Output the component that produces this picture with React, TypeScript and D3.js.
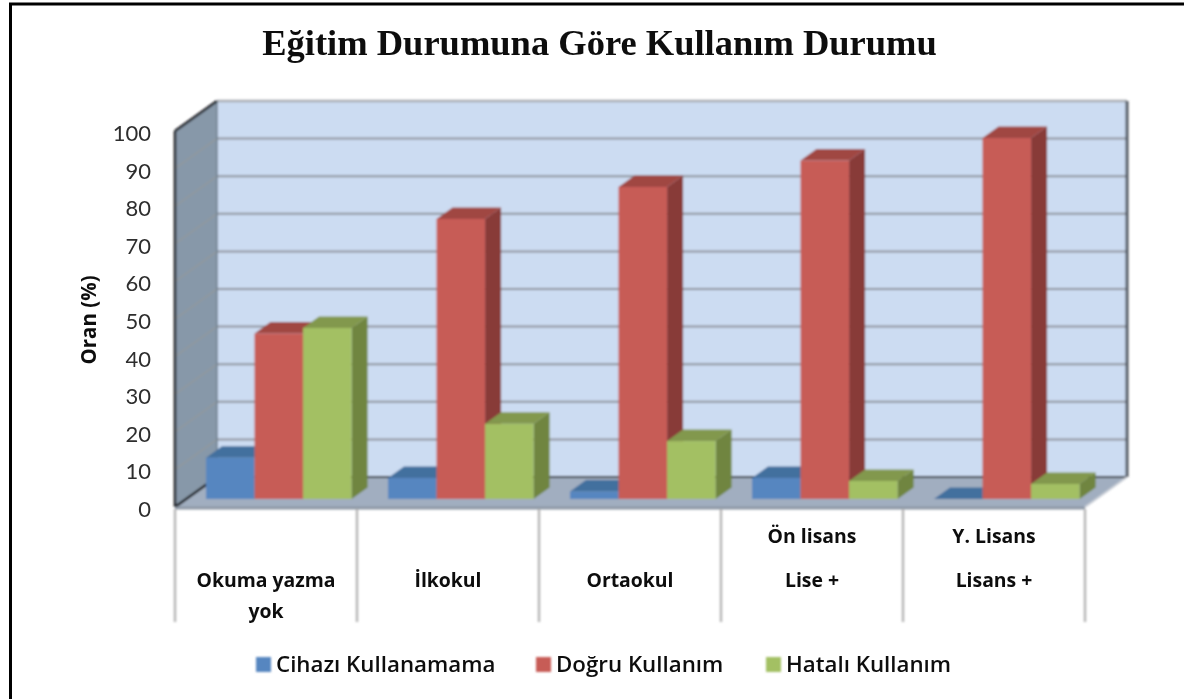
import {useEffect, useRef} from "react";
import * as d3 from "d3";

const categories = ["Okuma yazma yok", "İlkokul", "Ortaokul", "Ön lisans Lise +", "Y. Lisans Lisans +"];
const categoryLines = [["", "Okuma yazma", "yok"], ["", "İlkokul", ""], ["", "Ortaokul", ""], ["Ön lisans", "Lise +", ""], ["Y. Lisans", "Lisans +", ""]];
const seriesNames = ["Cihazı Kullanamama", "Doğru Kullanım", "Hatalı Kullanım"];
const cihaziKullanamama = [11, 5.6, 2, 5.6, 0];
const dogruKullanim = [44, 74.5, 83, 90, 96];
const hataliKullanim = [45.5, 20, 15.4, 4.8, 4];
const seriesValues = [cihaziKullanamama, dogruKullanim, hataliKullanim];
const yTicks = [0, 10, 20, 30, 40, 50, 60, 70, 80, 90, 100];

const frontColors = ["#5686c0", "#c75b57", "#a3c063"];
const topColors = ["#436f9e", "#a04643", "#82984d"];
const sideColors = ["#3a6288", "#883b39", "#70853f"];
const legendX = [256, 536, 766];

const font = "Lato, 'Open Sans', sans-serif";
const labelFont = "'Open Sans', Lato, sans-serif";

function App() {
    const ref = useRef<SVGSVGElement>(null);

    useEffect(() => {
        const root = d3.select(ref.current);
        root.selectAll("*").remove();

        const defs = root.append("defs");
        const addBlur = (id: string, amount: number) =>
            defs.append("filter")
                .attr("id", id)
                .attr("filterUnits", "userSpaceOnUse")
                .attr("x", -10).attr("y", -10).attr("width", 1204).attr("height", 719)
                .append("feGaussianBlur")
                .attr("stdDeviation", amount);
        addBlur("soft", 0.85);
        addBlur("softText", 0.5);

        const svg = root.append("g").attr("filter", "url(#soft)");
        const labels = root.append("g").attr("filter", "url(#softText)");

        // outer frame, only left and top are visible in the picture
        labels.append("path")
            .attr("d", "M10.5,710V4H1195")
            .attr("fill", "none").attr("stroke", "#000").attr("stroke-width", 3);

        labels.append("text")
            .attr("x", 599.5).attr("y", 55)
            .attr("text-anchor", "middle")
            .attr("font-family", "'Liberation Serif', serif")
            .attr("font-weight", "bold")
            .attr("font-size", 36.5)
            .attr("fill", "#0d0d0d")
            .text("Eğitim Durumuna Göre Kullanım Durumu");

        const left = 175, right = 1085;
        const depthX = 42, depthY = 30;
        const y = d3.scaleLinear().domain([0, 100]).range([507, 131]);
        const x0 = d3.scaleBand().domain(categories).range([left, right]).paddingInner(0.2).paddingOuter(0.1);
        const x1 = d3.scaleBand().domain(seriesNames).range([0, x0.bandwidth()]);

        // walls and floor
        const wallPoly = (pts: number[][], fill: string) =>
            svg.append("polygon").attr("points", pts.map(p => p.join(",")).join(" ")).attr("fill", fill);

        wallPoly([[left + depthX, y(100) - depthY], [right + depthX, y(100) - depthY], [right + depthX, y(0) - depthY], [left + depthX, y(0) - depthY]], "#ccdcf2");
        wallPoly([[left, y(100)], [left + depthX, y(100) - depthY], [left + depthX, y(0) - depthY], [left, y(0)]], "#8798a9");
        wallPoly([[left, y(0)], [left + depthX, y(0) - depthY], [right + depthX, y(0) - depthY], [right, y(0)]], "#a1aec0");

        const grid = svg.append("g");
        yTicks.filter(t => t > 0 && t < 100).forEach(t => {
            grid.append("line")
                .attr("x1", left + depthX).attr("x2", right + depthX)
                .attr("y1", y(t) - depthY).attr("y2", y(t) - depthY)
                .attr("stroke", "#8d929b").attr("stroke-width", 2);
            grid.append("line")
                .attr("x1", left).attr("x2", left + depthX)
                .attr("y1", y(t)).attr("y2", y(t) - depthY)
                .attr("stroke", "#94989c").attr("stroke-width", 1.2);
        });

        const edge = (x1v: number, y1v: number, x2v: number, y2v: number, color: string, w: number) =>
            svg.append("line")
                .attr("x1", x1v).attr("y1", y1v).attr("x2", x2v).attr("y2", y2v)
                .attr("stroke", color).attr("stroke-width", w);

        edge(left + depthX, y(100) - depthY, right + depthX, y(100) - depthY, "#a9adb3", 2.5);
        edge(left + depthX, y(100) - depthY, left + depthX, y(0) - depthY, "#6f7f8e", 1.5);
        edge(right + depthX, y(100) - depthY, right + depthX, y(0) - depthY, "#4f5660", 3);
        edge(left + depthX, y(0) - depthY, right + depthX, y(0) - depthY, "#2f3238", 2);
        edge(left, y(100), left + depthX, y(100) - depthY, "#15181c", 2.5);
        edge(left, y(100), left, y(0), "#15181c", 2.5);
        edge(left, y(0), left + depthX, y(0) - depthY, "#15181c", 2.5);
        edge(left, y(0) + 1, right, y(0) + 1, "#8d98a6", 3);
        edge(right, y(0), right + depthX, y(0) - depthY, "#c9ced6", 2);

        // category dividers
        d3.range(categories.length + 1).forEach(i => {
            const xp = left + i * x0.step();
            edge(xp, 509, xp, 622, "#b8b8b8", 2.5);
        });

        // bars, shifted back from the front edge of the floor
        const shiftX = 12.8, shiftY = 8;
        const barDX = 16, barDY = 11.5;

        categories.forEach((cat, c) => {
            seriesNames.forEach((name, s) => {
                const v = seriesValues[s][c];
                const xa = x0(cat)! + x1(name)! + shiftX;
                const xb = xa + x1.bandwidth();
                const top = y(v) - shiftY;
                const base = y(0) - shiftY;
                const g = svg.append("g");
                g.append("polygon")
                    .attr("points", `${xb},${top} ${xb + barDX},${top - barDY} ${xb + barDX},${base - barDY} ${xb},${base}`)
                    .attr("fill", sideColors[s]);
                g.append("polygon")
                    .attr("points", `${xa},${top} ${xa + barDX},${top - barDY} ${xb + barDX},${top - barDY} ${xb},${top}`)
                    .attr("fill", topColors[s]);
                g.append("rect")
                    .attr("x", xa).attr("y", top)
                    .attr("width", x1.bandwidth()).attr("height", base - top)
                    .attr("fill", frontColors[s]);
            });
        });

        // y axis
        const yAxis = labels.append("g")
            .attr("transform", "translate(151,2.5)")
            .call(d3.axisLeft(y).tickValues(yTicks).tickSize(0).tickPadding(0));
        yAxis.select(".domain").remove();
        yAxis.selectAll("text")
            .attr("font-family", font)
            .attr("font-size", 22)
            .attr("fill", "#2e2e2e");

        labels.append("text")
            .attr("transform", "translate(96,320) rotate(-90)")
            .attr("text-anchor", "middle")
            .attr("font-family", labelFont)
            .attr("font-weight", 700)
            .attr("font-size", 20.5)
            .attr("fill", "#111")
            .text("Oran (%)");

        // category labels
        const lineY = [543, 587, 618];
        categories.forEach((cat, c) => {
            categoryLines[c].forEach((line, l) => {
                if (!line) return;
                labels.append("text")
                    .attr("x", left + (c + 0.5) * x0.step())
                    .attr("y", lineY[l])
                    .attr("text-anchor", "middle")
                    .attr("font-family", labelFont)
                    .attr("font-weight", 700)
                    .attr("font-size", 19.4)
                    .attr("fill", "#111")
                    .text(line);
            });
        });

        // legend
        seriesNames.forEach((name, s) => {
            svg.append("rect")
                .attr("x", legendX[s]).attr("y", 657)
                .attr("width", 15).attr("height", 15)
                .attr("fill", frontColors[s]);
            labels.append("text")
                .attr("x", legendX[s] + 20).attr("y", 672)
                .attr("font-family", labelFont)
                .attr("font-weight", 600)
                .attr("font-size", 22.3)
                .attr("fill", "#111")
                .text(name);
        });
    }, []);

    return <svg ref={ref} width={1184} height={699} style={{position: "absolute", left: 0, top: 0}}></svg>;
}

export default App;
